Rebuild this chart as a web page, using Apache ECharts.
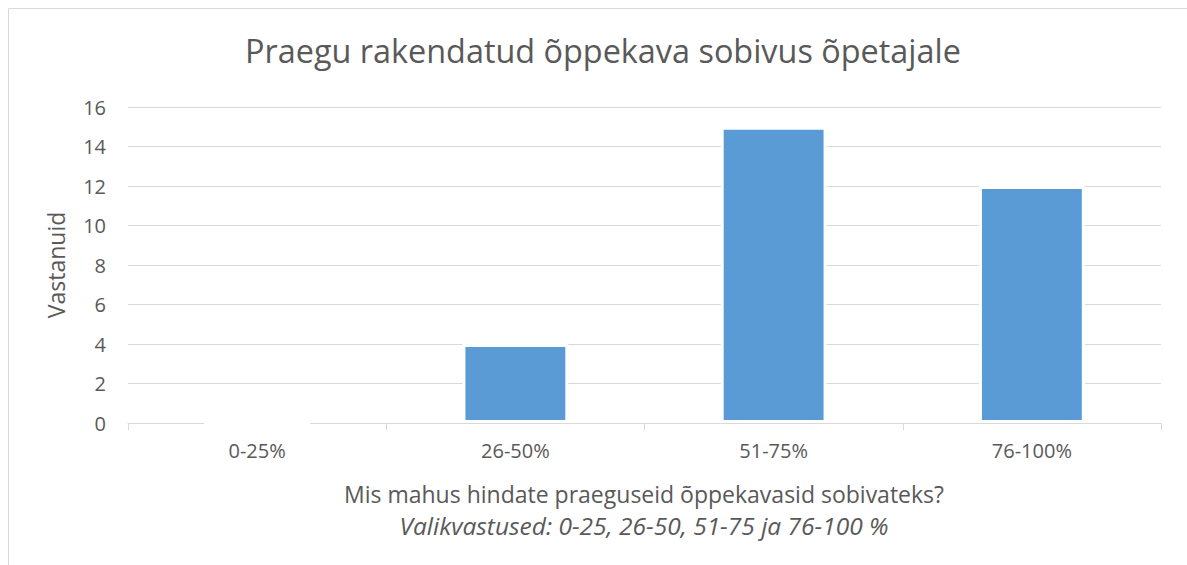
<!DOCTYPE html>
<html><head><meta charset="utf-8">
<script src="https://cdn.jsdelivr.net/npm/echarts@6/dist/echarts.min.js"></script>
<style>html,body{margin:0;padding:0;background:#fff;}#c{width:1187px;height:565px;}</style>
</head><body><div id="c"></div>
<script>
const categories = ['0-25%', '26-50%', '51-75%', '76-100%'];
const values = [0, 4, 15, 12];
const titleText = 'Praegu rakendatud õppekava sobivus õpetajale';
const yName = 'Vastanuid';
const xNameLine1 = 'Mis mahus hindate praeguseid õppekavasid sobivateks?';
const xNameLine2 = 'Valikvastused: 0-25, 26-50, 51-75 ja 76-100 %';
const font = 'Open Sans';
const chart = echarts.init(document.getElementById('c'), null, {renderer: 'svg'});
chart.setOption({
  animation: false,
  backgroundColor: '#fff',
  title: {text: titleText, left: 245, top: 34, padding: 0,
    textStyle: {fontFamily: font, fontSize: 32.4, fontWeight: 'normal', color: '#595959'}},
  grid: {left: 128, right: 26, top: 107, bottom: 142},
  xAxis: {type: 'category', data: categories,
    axisLine: {lineStyle: {color: '#d9d9d9', width: 1}},
    axisTick: {show: true, length: 7, lineStyle: {color: '#d9d9d9'}},
    axisLabel: {fontFamily: font, fontSize: 20, color: '#595959', margin: 17}},
  yAxis: {type: 'value', min: 0, max: 16, interval: 2,
    name: yName, nameLocation: 'middle', nameGap: 61, nameRotate: 90,
    nameTextStyle: {fontFamily: font, fontSize: 23, color: '#595959'},
    axisLine: {show: false}, axisTick: {show: false},
    axisLabel: {fontFamily: font, fontSize: 20, color: '#595959', margin: 22},
    splitLine: {lineStyle: {color: '#d9d9d9', width: 1}}},
  series: [{type: 'bar', data: values, barWidth: '41%',
    itemStyle: {color: '#5b9bd5', borderColor: '#ffffff', borderWidth: 3}}],
  graphic: [
    {type: 'line', shape: {x1: 8.5, y1: 8.5, x2: 1187, y2: 8.5}, style: {stroke: '#d9d9d9', lineWidth: 1}},
    {type: 'line', shape: {x1: 8.5, y1: 8.5, x2: 8.5, y2: 565}, style: {stroke: '#d9d9d9', lineWidth: 1}},
    {type: 'text', x: 644, y: 494, style: {text: xNameLine1, fontFamily: font, fontSize: 23, fill: '#595959', textAlign: 'center', textVerticalAlign: 'middle'}},
    {type: 'text', x: 644, y: 525, style: {text: xNameLine2, fontFamily: font, fontSize: 24.5, fontStyle: 'italic', fill: '#595959', textAlign: 'center', textVerticalAlign: 'middle'}}
  ]
});
</script></body></html>
